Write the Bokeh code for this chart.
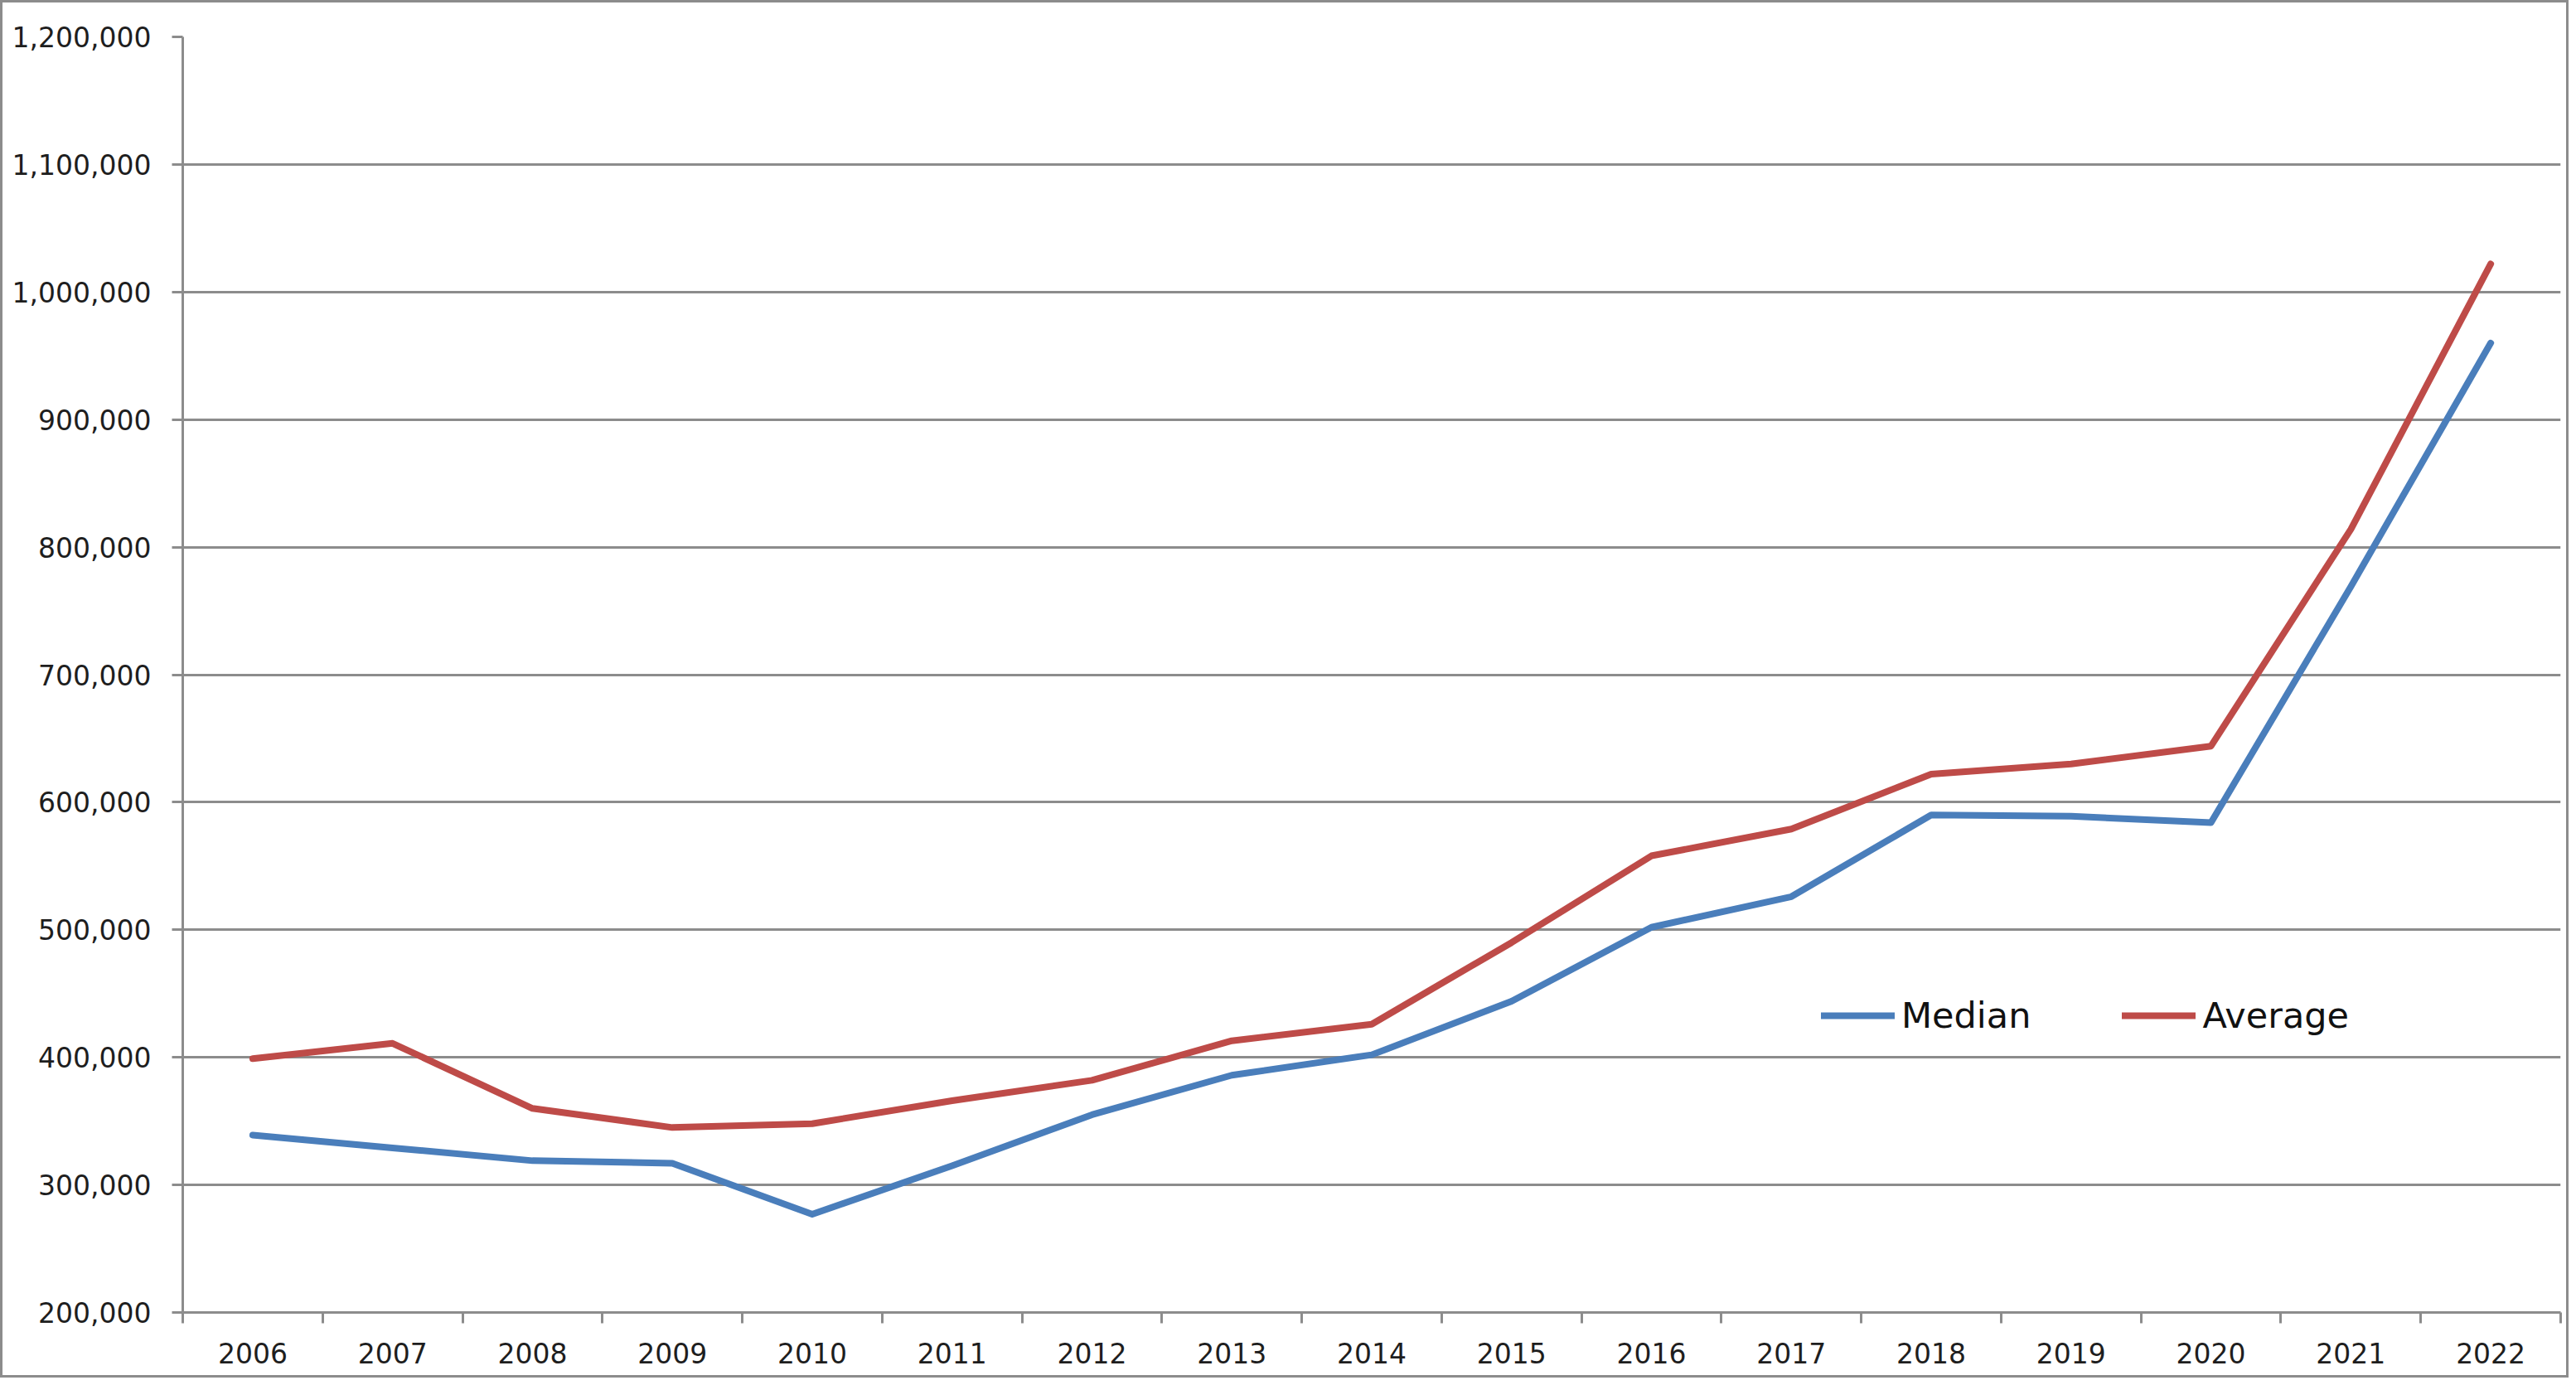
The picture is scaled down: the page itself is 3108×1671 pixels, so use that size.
from bokeh.plotting import figure
from bokeh.models import (ColumnDataSource, FixedTicker, NumeralTickFormatter,
                          Legend, LegendItem, Range1d)
from bokeh.embed import file_html
from bokeh.resources import INLINE

years = [2006, 2007, 2008, 2009, 2010, 2011, 2012, 2013, 2014,
         2015, 2016, 2017, 2018, 2019, 2020, 2021, 2022]
median = [339000, 329000, 319000, 317000, 277000, 315000, 355000, 386000, 402000,
          444000, 502000, 526000, 590000, 589000, 584000, 769000, 960000]
average = [399000, 411000, 360000, 345000, 348000, 366000, 382000, 413000, 426000,
           490000, 558000, 579000, 622000, 630000, 644000, 814000, 1022000]
y_ticks = [200000, 300000, 400000, 500000, 600000, 700000, 800000, 900000,
           1000000, 1100000, 1200000]
series_names = ["Median", "Average"]

source = ColumnDataSource(data=dict(year=years, median=median, average=average))

GRID = "#8c8c8c"
TEXT = "#1e1e1e"
FONT = "DejaVu Sans"

p = figure(width=3099, height=1662, output_backend="svg", toolbar_location=None,
           x_range=Range1d(years[0] - 0.5, years[-1] + 0.5),
           y_range=Range1d(y_ticks[0], y_ticks[-1]),
           min_border_left=217, min_border_top=41, min_border_right=13,
           min_border_bottom=82)
p.styles = {"border": "3px solid #8c8c8c"}
p.outline_line_color = None
p.background_fill_color = "white"
p.border_fill_color = "white"

# axes
p.xaxis.ticker = FixedTicker(ticks=years,
                             minor_ticks=[y - 0.5 for y in years] + [years[-1] + 0.5])
p.xaxis.major_tick_line_color = None
p.xaxis.major_tick_out = 0
p.xaxis.major_tick_in = 0
p.xaxis.minor_tick_line_color = GRID
p.xaxis.minor_tick_line_width = 3
p.xaxis.minor_tick_out = 13
p.xaxis.minor_tick_in = 0
p.xaxis.axis_line_color = GRID
p.xaxis.axis_line_width = 3
p.xaxis.major_label_text_font = FONT
p.xaxis.major_label_text_font_size = "33px"
p.xaxis.major_label_text_color = TEXT
p.xaxis.major_label_standoff = 23

p.yaxis.ticker = FixedTicker(ticks=y_ticks)
p.yaxis.formatter = NumeralTickFormatter(format="0,0")
p.yaxis.minor_tick_line_color = None
p.yaxis.major_tick_line_color = GRID
p.yaxis.major_tick_line_width = 3
p.yaxis.major_tick_out = 13
p.yaxis.major_tick_in = 0
p.yaxis.axis_line_color = GRID
p.yaxis.axis_line_width = 3
p.yaxis.major_label_text_font = FONT
p.yaxis.major_label_text_font_size = "33px"
p.yaxis.major_label_text_color = TEXT
p.yaxis.major_label_standoff = 25

p.xgrid.grid_line_color = None
p.ygrid.grid_line_color = GRID
p.ygrid.grid_line_width = 3

r_med = p.line("year", "median", source=source, line_color="#4a7ebb", line_width=8,
               line_join="round", line_cap="round")
r_avg = p.line("year", "average", source=source, line_color="#be4b48", line_width=8,
               line_join="round", line_cap="round")

legend = Legend(items=[LegendItem(label=series_names[0], renderers=[r_med]),
                       LegendItem(label=series_names[1], renderers=[r_avg])],
                location=(1977, 333), orientation="horizontal",
                padding=0, margin=0, spacing=110,
                glyph_width=89, glyph_height=40, label_height=40,
                label_standoff=8,
                label_text_font=FONT, label_text_font_size="43px",
                label_text_color="#111111",
                border_line_color=None, background_fill_alpha=0)
p.add_layout(legend, "center")

open("out.html", "w").write(file_html(p, INLINE))
